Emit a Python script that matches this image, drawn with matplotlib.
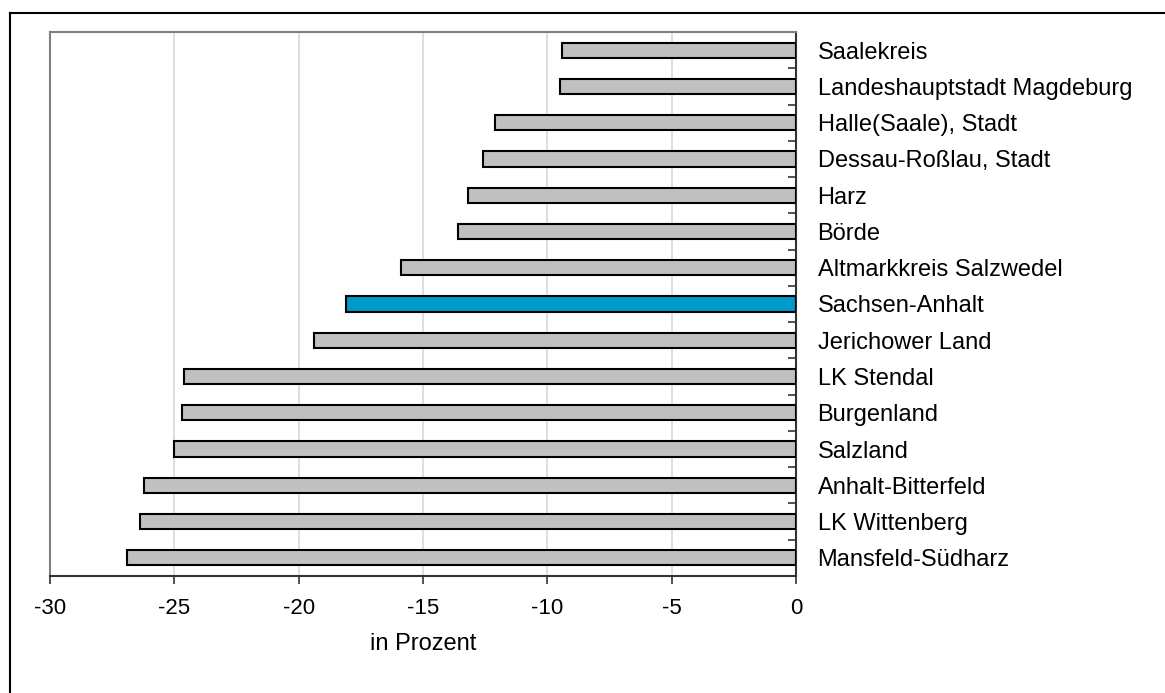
import matplotlib
matplotlib.use("Agg")
import matplotlib.pyplot as plt
from matplotlib.lines import Line2D
import numpy as np

plt.rcParams['font.family'] = ['Liberation Sans', 'DejaVu Sans']

# Kreise, von oben nach unten
kreise = [
    "Saalekreis",
    "Landeshauptstadt Magdeburg",
    "Halle(Saale), Stadt",
    "Dessau-Roßlau, Stadt",
    "Harz",
    "Börde",
    "Altmarkkreis Salzwedel",
    "Sachsen-Anhalt",
    "Jerichower Land",
    "LK Stendal",
    "Burgenland",
    "Salzland",
    "Anhalt-Bitterfeld",
    "LK Wittenberg",
    "Mansfeld-Südharz",
]
# Veränderung in Prozent
werte = [-9.4, -9.5, -12.1, -12.6, -13.2, -13.6, -15.9, -18.1,
         -19.4, -24.6, -24.7, -25.0, -26.2, -26.4, -26.9]
land = "Sachsen-Anhalt"

x_ticks = [-30, -25, -20, -15, -10, -5, 0]

W, H = 1165, 693
fig = plt.figure(figsize=(W / 100, H / 100), dpi=100)
ax = fig.add_axes([50 / W, 1 - 576 / H, (796 - 50) / W, (576 - 32) / H])

pos = np.arange(len(kreise))
farben = ["#0099CC" if k == land else "#C0C0C0" for k in kreise]
ax.barh(pos, werte, height=0.42, color=farben, edgecolor="black",
        linewidth=1.5, zorder=3)

ax.set_xlim(-30, 0)
ax.set_ylim(len(kreise) - 0.5, -0.5)

ax.set_xticks(x_ticks)
ax.set_xticklabels([str(t) for t in x_ticks], fontsize=16)
ax.tick_params(axis="x", direction="out", length=6, width=1.2,
               color="#333333", pad=10)
for t in x_ticks[1:-1]:
    ax.axvline(t, color="#D9D9D9", linewidth=1.2, zorder=1)

# Kategorieachse rechts bei 0
ax.yaxis.tick_right()
ax.set_yticks(pos)
ax.set_yticklabels(kreise, fontsize=17)
ax.tick_params(axis="y", which="major", length=0, pad=15.5)
ax.set_yticks(np.arange(-0.5, len(kreise), 1.0), minor=True)
ax.tick_params(axis="y", which="minor", direction="in", length=6,
               width=1.2, color="#333333", right=True, left=False)

ax.spines["left"].set_color("#808080")
ax.spines["top"].set_color("#808080")
ax.spines["left"].set_linewidth(1.5)
ax.spines["top"].set_linewidth(1.5)
ax.spines["right"].set_color("#333333")
ax.spines["bottom"].set_color("#333333")
ax.spines["right"].set_linewidth(1.5)
ax.spines["bottom"].set_linewidth(1.5)

ax.set_xlabel("in Prozent", fontsize=17, labelpad=10)

# äußerer Rahmen
fig.add_artist(Line2D([10 / W, 10 / W], [0, 1 - 13 / H], color="black",
                      linewidth=1.5, transform=fig.transFigure))
fig.add_artist(Line2D([10 / W, 1], [1 - 13 / H, 1 - 13 / H], color="black",
                      linewidth=1.5, transform=fig.transFigure))

fig.savefig("out.png", dpi=100)
